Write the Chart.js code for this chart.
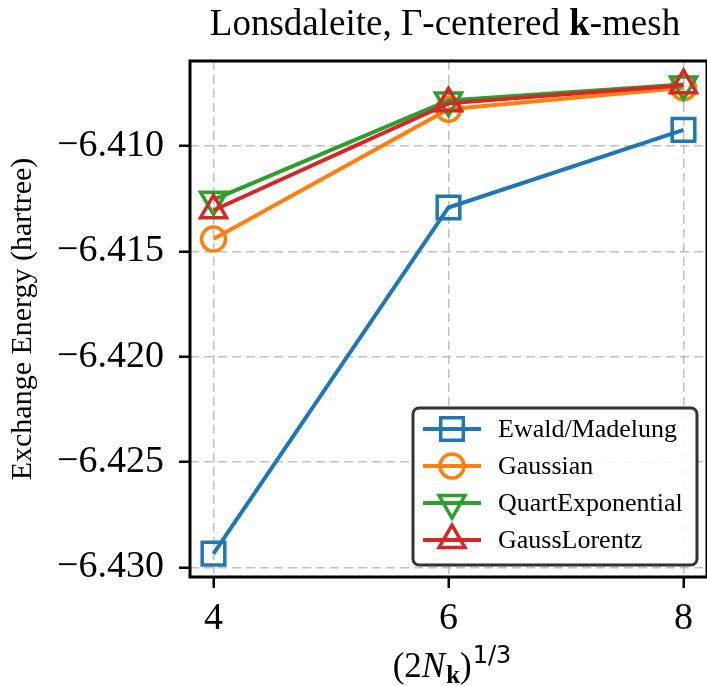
<!DOCTYPE html>
<html>
<head>
<meta charset="utf-8">
<script src="https://cdn.jsdelivr.net/npm/chart.js"></script>
<style>
    html, body { margin: 0; padding: 0; background: #fff; }
    canvas { display: block; }
</style>
</head>
<body>
<canvas id="chart" width="707" height="686"></canvas>
<script>
const xValues = [4, 6, 8];
const ewald = [-6.42934, -6.41292, -6.40924];
const gaussian = [-6.41442, -6.40826, -6.40724];
const quartExp = [-6.41255, -6.40784, -6.40708];
const gaussLorentz = [-6.41305, -6.40798, -6.40712];

const seriesNames = ["Ewald/Madelung", "Gaussian", "QuartExponential", "GaussLorentz"];
const xTicks = [4, 6, 8];
const yTicks = [-6.430, -6.425, -6.420, -6.415, -6.410];

const serif = "'Liberation Serif', 'DejaVu Serif', serif";
const colors = ["#1f77b4", "#ff7f0e", "#2ca02c", "#d62728"];
const markers = [
    { style: "rect", radius: 16, rotation: 0 },
    { style: "circle", radius: 12, rotation: 0 },
    { style: "triangle", radius: 15, rotation: 180 },
    { style: "triangle", radius: 15, rotation: 0 }
];

function makeSet(i, values) {
    return {
        label: seriesNames[i],
        data: xValues.map((x, j) => ({ x: x, y: values[j] })),
        borderColor: colors[i],
        backgroundColor: "rgba(0,0,0,0)",
        borderWidth: 4,
        pointStyle: markers[i].style,
        pointRadius: markers[i].radius,
        pointRotation: markers[i].rotation,
        pointBorderWidth: 3.5,
        pointBorderColor: colors[i],
        pointBackgroundColor: "rgba(0,0,0,0)",
        order: 4 - i,
        tension: 0,
        clip: false
    };
}

// draw a run of text pieces with different fonts, centred on cx
function richText(ctx, parts, cx, baseline) {
    let total = 0;
    parts.forEach(p => {
        ctx.font = p.font;
        p.w = ctx.measureText(p.text).width;
        total += p.w + (p.gap || 0);
    });
    let x = cx - total / 2;
    ctx.textAlign = "left";
    ctx.textBaseline = "alphabetic";
    parts.forEach(p => {
        ctx.font = p.font;
        ctx.fillText(p.text, x, baseline + (p.dy || 0));
        x += p.w + (p.gap || 0);
    });
}

function marker(ctx, m, x, y) {
    let r = m.radius;
    let rad = m.rotation * Math.PI / 180;
    ctx.beginPath();
    if (m.style === "rect") {
        let s = Math.SQRT1_2 * r;
        ctx.rect(x - s, y - s, 2 * s, 2 * s);
    } else if (m.style === "circle") {
        ctx.arc(x, y, r, 0, Math.PI * 2);
    } else {
        ctx.moveTo(x + Math.sin(rad) * r, y - Math.cos(rad) * r);
        rad += Math.PI * 2 / 3;
        ctx.lineTo(x + Math.sin(rad) * r, y - Math.cos(rad) * r);
        rad += Math.PI * 2 / 3;
        ctx.lineTo(x + Math.sin(rad) * r, y - Math.cos(rad) * r);
        ctx.closePath();
    }
    ctx.stroke();
}

const decorations = {
    id: "decorations",
    afterDraw(chart) {
        const ctx = chart.ctx;
        const a = chart.chartArea;
        ctx.save();

        // spines
        ctx.strokeStyle = "#000";
        ctx.lineWidth = 3;
        ctx.beginPath();
        ctx.moveTo(a.left, a.bottom);
        ctx.lineTo(a.left, a.top);
        ctx.lineTo(a.right, a.top);
        ctx.lineTo(a.right, a.bottom);
        ctx.closePath();
        ctx.stroke();

        // title
        ctx.fillStyle = "#000";
        richText(ctx, [
            { text: "Lonsdaleite, \u0393-centered ", font: "37px " + serif },
            { text: "k", font: "bold 37px " + serif },
            { text: "-mesh", font: "37px " + serif }
        ], 445, 35);

        // x axis label
        richText(ctx, [
            { text: "(2", font: "35px " + serif },
            { text: "N", font: "italic 35px " + serif, gap: 1 },
            { text: "k", font: "bold 25px " + serif, dy: 6 },
            { text: ")", font: "35px " + serif, gap: 1 },
            { text: "1/3", font: "24px 'DejaVu Sans', sans-serif", dy: -14 }
        ], 452, 677);

        // legend
        const lx = 413, ly = 408, lw = 284, lh = 157;
        ctx.beginPath();
        ctx.roundRect(lx, ly, lw, lh, 6);
        ctx.fillStyle = "rgba(255,255,255,0.9)";
        ctx.fill();
        ctx.lineWidth = 3;
        ctx.strokeStyle = "#333";
        ctx.stroke();

        chart.data.datasets.forEach((ds, i) => {
            const y = 429 + i * 37;
            ctx.strokeStyle = colors[i];
            ctx.lineWidth = 4;
            ctx.beginPath();
            ctx.moveTo(423, y);
            ctx.lineTo(481, y);
            ctx.stroke();
            ctx.lineWidth = 3.5;
            marker(ctx, markers[i], 452, y);
            ctx.fillStyle = "#000";
            ctx.font = "26px " + serif;
            ctx.textAlign = "left";
            ctx.textBaseline = "middle";
            ctx.fillText(ds.label, 498, y + 1);
        });
        ctx.restore();
    }
};

const chart = new Chart(document.getElementById("chart"), {
    type: "line",
    data: {
        datasets: [
            makeSet(0, ewald),
            makeSet(1, gaussian),
            makeSet(2, quartExp),
            makeSet(3, gaussLorentz)
        ]
    },
    options: {
        responsive: false,
        animation: false,
        events: [],
        layout: { autoPadding: false, padding: { top: 61, left: 0, right: -3, bottom: 0 } },
        plugins: {
            legend: { display: false },
            title: { display: false },
            tooltip: { enabled: false }
        },
        scales: {
            x: {
                type: "linear",
                min: 3.8,
                max: 8.2,
                afterBuildTicks: (scale) => { scale.ticks = xTicks.map(v => ({ value: v })); },
                afterFit: (scale) => {
                    scale.height = 109;
                    scale.paddingLeft = 0;
                    scale.paddingRight = 0;
                },
                grid: {
                    color: "rgba(176,176,176,0.8)",
                    lineWidth: 1.5,
                    tickColor: "#000",
                    tickWidth: 2.5,
                    tickLength: 11
                },
                border: { display: false, dash: [9, 5] },
                ticks: {
                    color: "#000",
                    padding: 8,
                    maxRotation: 0,
                    font: { family: serif, size: 38 },
                    callback: (v) => String(v)
                }
            },
            y: {
                min: -6.43045,
                max: -6.40597,
                afterBuildTicks: (scale) => { scale.ticks = yTicks.map(v => ({ value: v })); },
                afterFit: (scale) => {
                    scale.width = 190;
                    scale.paddingTop = 0;
                    scale.paddingBottom = 0;
                },
                grid: {
                    color: "rgba(176,176,176,0.8)",
                    lineWidth: 1.5,
                    tickColor: "#000",
                    tickWidth: 2.5,
                    tickLength: 11
                },
                border: { display: false, dash: [9, 5] },
                ticks: {
                    color: "#000",
                    padding: 15,
                    font: { family: serif, size: 38 },
                    callback: (v) => "\u2212" + Math.abs(v).toFixed(3)
                },
                title: {
                    display: true,
                    text: "Exchange Energy (hartree)",
                    color: "#000",
                    font: { family: serif, size: 30 },
                    padding: { top: 5, bottom: 0 }
                }
            }
        }
    },
    plugins: [decorations]
});
</script>
</body>
</html>
